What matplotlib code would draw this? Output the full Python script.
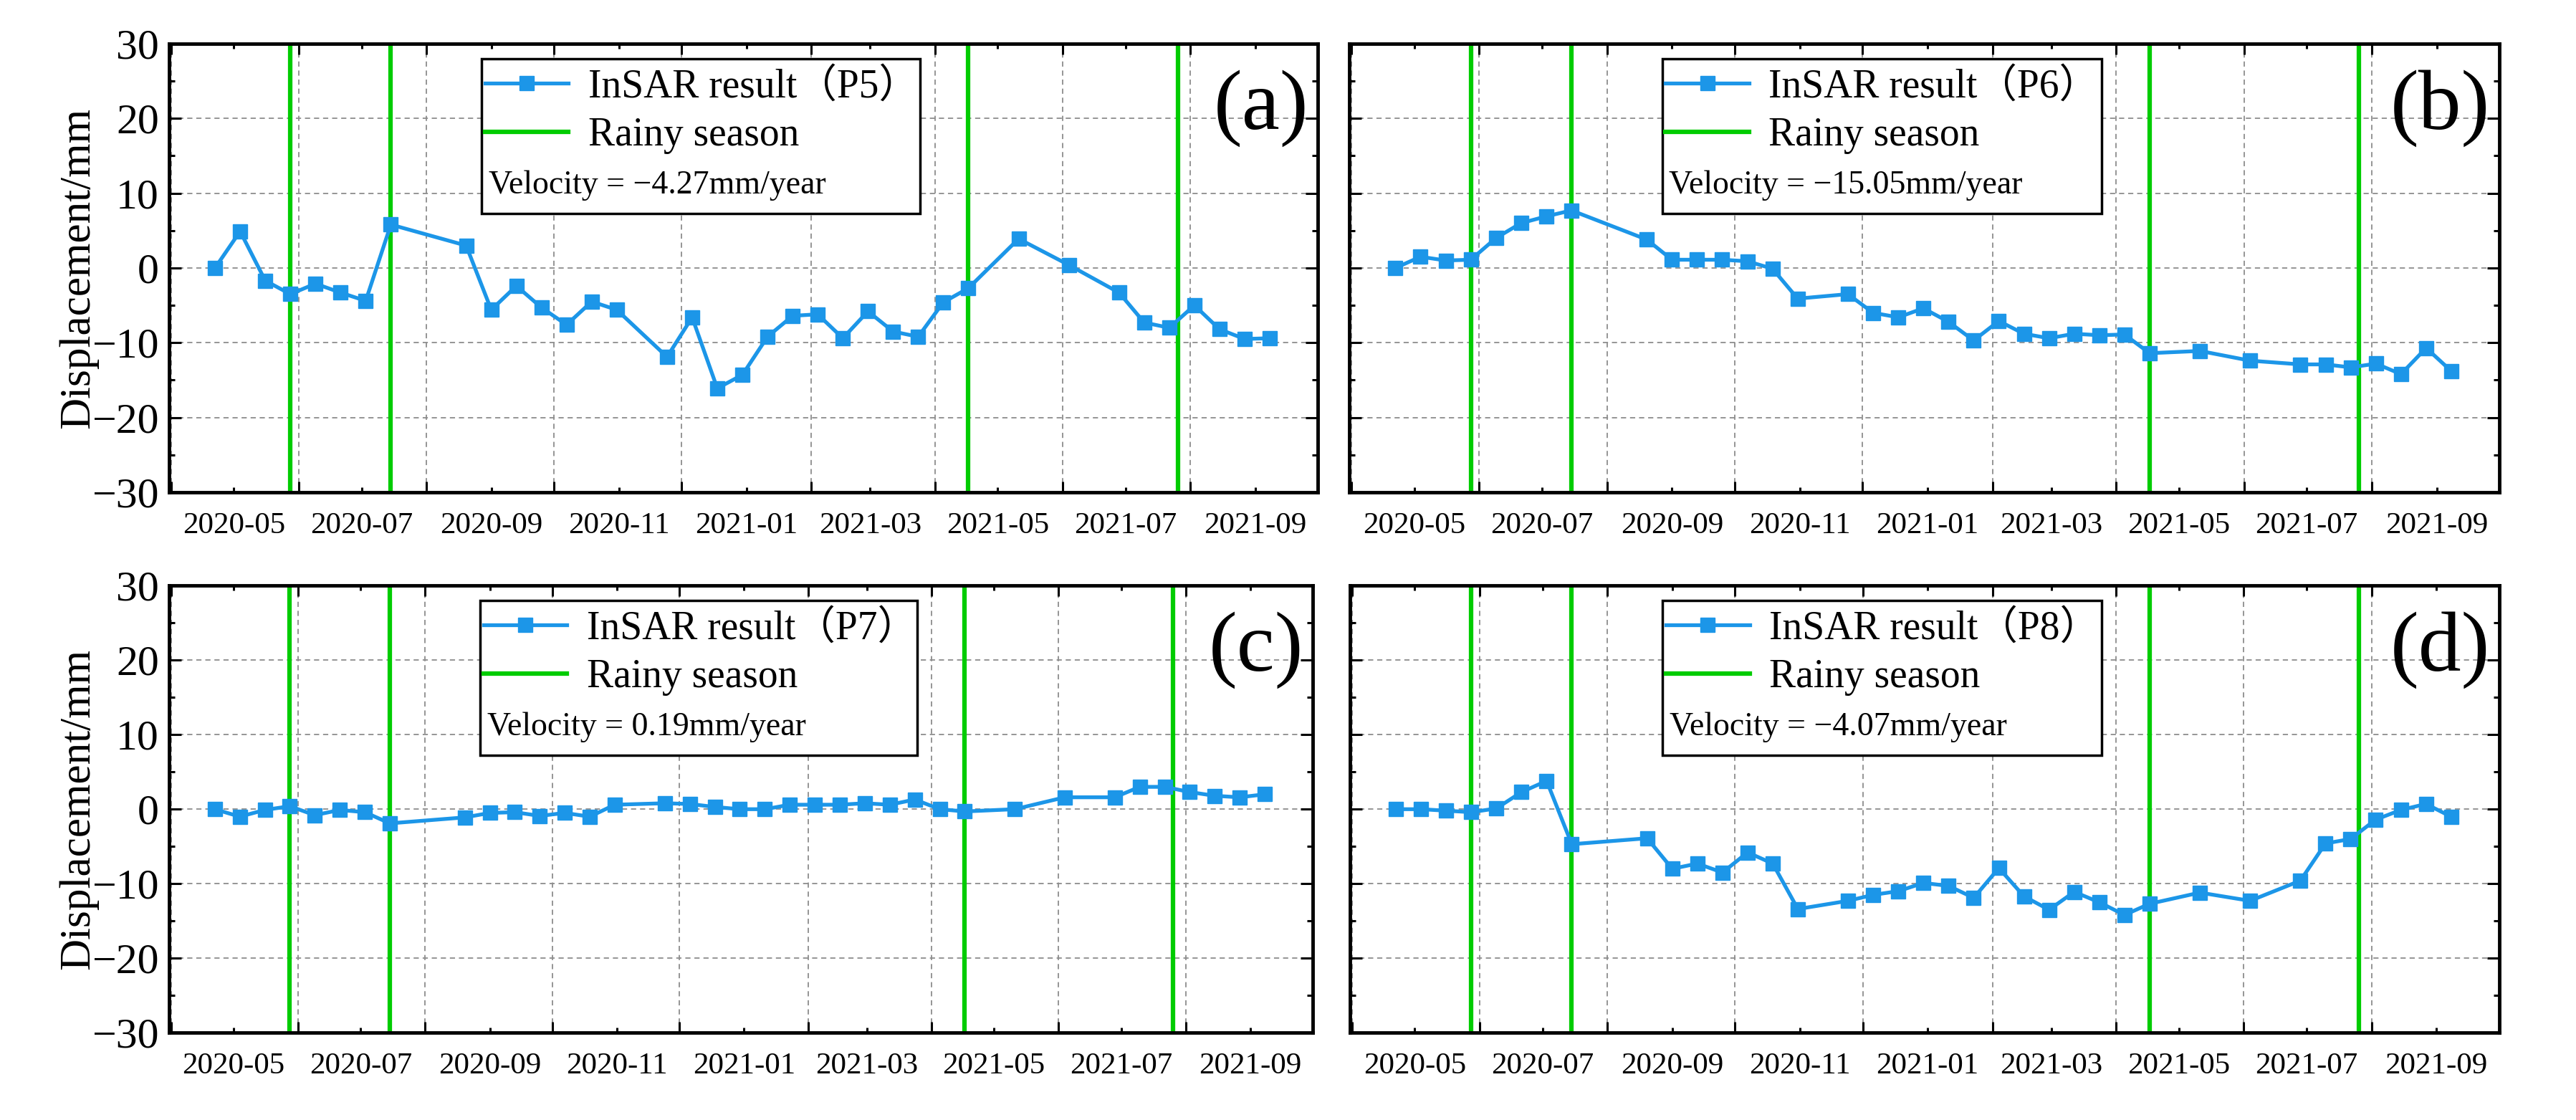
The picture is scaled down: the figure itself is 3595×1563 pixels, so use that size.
import matplotlib
matplotlib.use('Agg')
import matplotlib.pyplot as plt
import matplotlib.dates as mdates
from matplotlib.patches import Rectangle
from matplotlib.ticker import MultipleLocator
import numpy as np

plt.rcParams['font.family'] = ['Liberation Serif', 'Noto Sans CJK SC']

# fechas de adquisición (cada 12 días, con huecos)
fechas = np.array(['2020-04-22', '2020-05-04', '2020-05-16', '2020-05-28', '2020-06-09',
                   '2020-06-21', '2020-07-03', '2020-07-15', '2020-08-20', '2020-09-01',
                   '2020-09-13', '2020-09-25', '2020-10-07', '2020-10-19', '2020-10-31',
                   '2020-11-24', '2020-12-06', '2020-12-18', '2020-12-30', '2021-01-11',
                   '2021-01-23', '2021-02-04', '2021-02-16', '2021-02-28', '2021-03-12',
                   '2021-03-24', '2021-04-05', '2021-04-17', '2021-05-11', '2021-06-04',
                   '2021-06-28', '2021-07-10', '2021-07-22', '2021-08-03', '2021-08-15',
                   '2021-08-27', '2021-09-08'], dtype='datetime64[D]')

p5 = [0.0, 4.9, -1.7, -3.5, -2.1, -3.3, -4.4, 5.8,
      3.0, -5.6, -2.4, -5.3, -7.6, -4.5, -5.6,
      -11.9, -6.6, -16.1, -14.3, -9.2, -6.4, -6.2, -9.4, -5.8, -8.5, -9.2, -4.6, -2.7,
      3.9, 0.4,
      -3.3, -7.3, -8.0, -5.0, -8.2, -9.5, -9.4]

p6 = [0.0, 1.5, 1.0, 1.1, 4.0, 6.0, 6.9, 7.7,
      3.8, 1.1, 1.1, 1.1, 0.9, -0.1, -4.1,
      -3.5, -6.0, -6.6, -5.4, -7.2, -9.7, -7.1, -8.8, -9.4, -8.8, -9.0, -8.9, -11.4,
      -11.1, -12.4,
      -12.9, -12.9, -13.3, -12.8, -14.2, -10.7, -13.8]

p7 = [0.0, -1.0, -0.1, 0.4, -0.8, -0.1, -0.4, -1.9,
      -1.1, -0.5, -0.4, -0.9, -0.5, -1.0, 0.6,
      0.8, 0.7, 0.3, 0.0, 0.0, 0.6, 0.6, 0.6, 0.8, 0.6, 1.3, 0.0, -0.3,
      0.0, 1.6,
      1.6, 3.0, 3.0, 2.3, 1.8, 1.6, 2.0]

p8 = [0.0, 0.0, -0.2, -0.4, 0.1, 2.3, 3.8, -4.7,
      -3.9, -8.0, -7.3, -8.5, -5.8, -7.3, -13.4,
      -12.3, -11.5, -11.0, -9.9, -10.3, -11.9, -7.9, -11.7, -13.5, -11.1, -12.5, -14.2, -12.7,
      -11.2, -12.3,
      -9.6, -4.6, -4.0, -1.4, -0.1, 0.7, -1.0]

puntos = ['P5', 'P6', 'P7', 'P8']
velocidades = ['\u22124.27', '\u221215.05', '0.19', '\u22124.07']
letras = ['(a)', '(b)', '(c)', '(d)']

# inicio y fin de la temporada de lluvias
lluvia = np.array(['2020-05-28', '2020-07-15', '2021-04-17', '2021-07-26'], dtype='datetime64[D]')

azul = '#1C96E8'
verde = '#00CC00'
fuente = ['Liberation Serif', 'Noto Sans CJK SC']


def Panel(ax, y, punto, velocidad, letra, izquierda):
    linea, = ax.plot(fechas, y, '-s', color=azul, lw=3.8, ms=15, zorder=3,
                     label='InSAR result（%s）' % punto)
    verticales = []
    for d in lluvia:
        verticales.append(ax.axvline(d, color=verde, lw=4.5, zorder=2))

    ax.set_xlim(np.datetime64('2020-03-31'), np.datetime64('2021-10-01'))
    ax.set_ylim(-30, 30)
    ax.xaxis.set_major_locator(mdates.MonthLocator(bymonth=[1, 3, 5, 7, 9, 11]))
    ax.xaxis.set_minor_locator(mdates.MonthLocator(bymonth=[2, 4, 6, 8, 10, 12]))
    ax.xaxis.set_major_formatter(mdates.DateFormatter('%Y-%m'))
    ax.yaxis.set_major_locator(MultipleLocator(10))
    ax.yaxis.set_minor_locator(MultipleLocator(5))

    # cuadrícula punteada
    ax.grid(axis='y', which='major', ls=(0, (4, 3)), color='0.55', lw=1.3)
    ax.grid(axis='x', which='minor', ls=(0, (4, 3)), color='0.55', lw=1.3)

    ax.tick_params(which='both', direction='in', top=True, right=True, width=2.2)
    ax.tick_params(axis='x', which='major', length=5, labelsize=31, pad=20)
    ax.tick_params(axis='x', which='minor', length=11)
    ax.tick_params(axis='y', which='major', length=12, labelsize=43, pad=10)
    ax.tick_params(axis='y', which='minor', length=6)
    for s in ax.spines.values():
        s.set_linewidth(3.5)

    if izquierda:
        ax.set_ylabel('Displacement/mm', fontsize=44, labelpad=-6)
    else:
        ax.tick_params(axis='y', labelleft=False)

    # recuadro de la leyenda
    ax.add_patch(Rectangle((0.272, 0.621), 0.382, 0.3455, transform=ax.transAxes,
                           facecolor='white', edgecolor='black', lw=2.5, zorder=4))
    opciones = dict(loc='center left', frameon=False, prop={'family': fuente, 'size': 40},
                    handlelength=2.1, handletextpad=0.49, borderpad=0, borderaxespad=0)
    leg1 = ax.legend([linea], [linea.get_label()], bbox_to_anchor=(0.275, 0.904), **opciones)
    leg1.set_zorder(5)
    ax.add_artist(leg1)
    leg2 = ax.legend([verticales[0]], ['Rainy season'], bbox_to_anchor=(0.275, 0.7955), **opciones)
    leg2.set_zorder(5)
    ax.text(0.278, 0.684, 'Velocity = %smm/year' % velocidad, transform=ax.transAxes,
            fontsize=33, ha='left', va='center', zorder=6)
    ax.text(0.992, 0.856, letra, transform=ax.transAxes, fontsize=86,
            ha='right', va='center')


fig = plt.figure(figsize=(35.95, 15.63), dpi=100)
posiciones = [[0.0656, 0.5605, 0.4460, 0.4005],
              [0.5238, 0.5605, 0.4465, 0.4005],
              [0.0656, 0.0780, 0.4440, 0.3990],
              [0.5240, 0.0780, 0.4462, 0.3990]]
series = [p5, p6, p7, p8]

for k in range(4):
    ax = fig.add_axes(posiciones[k])
    Panel(ax, series[k], puntos[k], velocidades[k], letras[k], k % 2 == 0)

plt.savefig('out.png', dpi=100)
